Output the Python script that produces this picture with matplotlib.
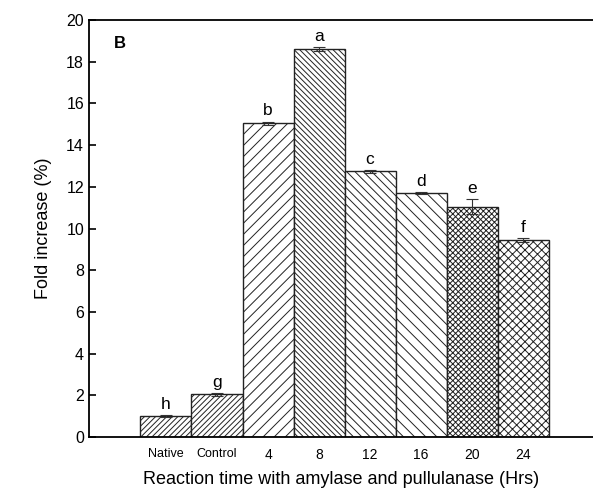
import matplotlib
matplotlib.use("Agg")
import matplotlib.pyplot as plt
import numpy as np

plt.rcParams['font.family'] = ['Liberation Sans', 'DejaVu Sans']
plt.rcParams['hatch.linewidth'] = 0.7

categories = ["Native", "Control", "4", "8", "12", "16", "20", "24"]
values = [1.0, 2.05, 15.05, 18.6, 12.75, 11.72, 11.05, 9.45]
errors = [0.05, 0.07, 0.08, 0.1, 0.07, 0.05, 0.35, 0.08]
letters = ["h", "g", "b", "a", "c", "d", "e", "f"]
hatches = ["//////", "//////", "///", "\\\\\\\\\\\\", "\\\\\\\\", "\\\\\\", "xxxxxx", "xxxx"]

fig = plt.figure(figsize=(5.93, 4.9), dpi=100)
ax = fig.add_axes([0.150, 0.108, 0.850, 0.851])
x = np.arange(len(categories))
for i in range(len(categories)):
    ax.bar(x[i], values[i], width=1.0, color="white", edgecolor="#222222",
           hatch=hatches[i], linewidth=1.0, zorder=2)
ax.errorbar(x, values, yerr=errors, fmt="none", ecolor="#333333",
            elinewidth=0.8, capsize=4, capthick=0.8, zorder=3)
for i in range(len(categories)):
    ax.text(x[i], values[i] + errors[i] + 0.15, letters[i], ha="center",
            va="bottom", fontsize=12.5)

ax.set_xlim(-1.51, 8.37)
ax.set_ylim(0, 20)
ax.set_yticks(np.arange(0, 21, 2))
ax.set_xticks(x)
labels_fs = [9, 9, 10, 10, 10, 10, 10, 10]
ax.set_xticklabels(categories)
for lbl, fs in zip(ax.get_xticklabels(), labels_fs):
    lbl.set_fontsize(fs)
ax.tick_params(axis="x", length=0, pad=8)
ax.tick_params(axis="y", direction="in", length=5, width=1.2, labelsize=11.5)
for s in ["top", "bottom", "left"]:
    ax.spines[s].set_linewidth(1.3)
ax.spines["right"].set_visible(False)
ax.set_ylabel("Fold increase (%)", fontsize=13, labelpad=10)
ax.set_xlabel("Reaction time with amylase and pullulanase (Hrs)", fontsize=13, labelpad=6)
ax.text(0.05, 0.945, "B", transform=ax.transAxes, fontsize=12, fontweight="bold",
        ha="left", va="center")
fig.savefig("out.png", dpi=100)
